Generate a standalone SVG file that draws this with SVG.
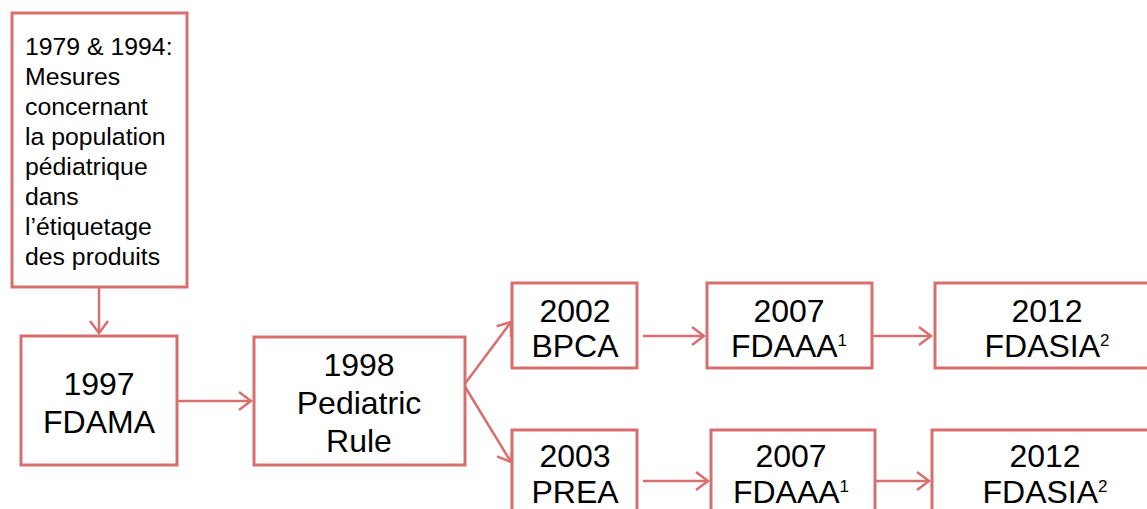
<svg xmlns="http://www.w3.org/2000/svg" width="1147" height="509" viewBox="0 0 1147 509">
<style>
.box{fill:#fff;stroke:#D86F6E;stroke-width:3}
.con{fill:none;stroke:#D86F6E;stroke-width:2.5}
.t{font-family:"Liberation Sans",Arial,sans-serif;fill:#000;text-anchor:middle;font-size:32px}
.s{font-family:"Liberation Sans",Arial,sans-serif;fill:#000;font-size:24.8px}
.sup{font-size:17px}
</style>
<defs>
<marker id="ah" markerUnits="userSpaceOnUse" markerWidth="16" markerHeight="20" refX="13" refY="10" orient="auto">
<path d="M1,1 L13,10 L1,19" fill="none" stroke="#D86F6E" stroke-width="2.5"/>
</marker>
</defs>
<g id="connectors">
<line class="con" x1="99" y1="288" x2="99" y2="333" marker-end="url(#ah)"/>
<line class="con" x1="172" y1="401" x2="251" y2="401" marker-end="url(#ah)"/>
<line class="con" x1="464" y1="385" x2="511" y2="322" marker-end="url(#ah)"/>
<line class="con" x1="464" y1="385" x2="511" y2="462" marker-end="url(#ah)"/>
<line class="con" x1="643" y1="336" x2="704" y2="336" marker-end="url(#ah)"/>
<line class="con" x1="868" y1="336" x2="931" y2="336" marker-end="url(#ah)"/>
<line class="con" x1="643" y1="481" x2="708" y2="481" marker-end="url(#ah)"/>
<line class="con" x1="872" y1="481" x2="929" y2="481" marker-end="url(#ah)"/>
</g>
<g id="n1979">
<rect class="box" x="12" y="13" width="175" height="274"/>
<text class="s" x="25"><tspan x="25" y="55">1979 &amp; 1994:</tspan><tspan x="25" y="85">Mesures</tspan><tspan x="25" y="115">concernant</tspan><tspan x="25" y="145">la population</tspan><tspan x="25" y="175">pédiatrique</tspan><tspan x="25" y="205">dans</tspan><tspan x="25" y="235">l’étiquetage</tspan><tspan x="25" y="265">des produits</tspan></text>
</g>
<g id="n1997">
<rect class="box" x="21" y="336" width="156" height="129"/>
<text class="t" x="99" y="395">1997</text>
<text class="t" x="99" y="433">FDAMA</text>
</g>
<g id="n1998">
<rect class="box" x="254" y="337" width="211" height="128"/>
<text class="t" x="359" y="376">1998</text>
<text class="t" x="359" y="414">Pediatric</text>
<text class="t" x="359" y="452">Rule</text>
</g>
<g id="n2002">
<rect class="box" x="512" y="283" width="125" height="85"/>
<text class="t" x="575" y="322">2002</text>
<text class="t" x="575" y="357">BPCA</text>
</g>
<g id="n2007a">
<rect class="box" x="707" y="283" width="165" height="85"/>
<text class="t" x="789" y="322">2007</text>
<text class="t" x="789" y="357">FDAAA<tspan class="sup" dy="-11">1</tspan></text>
</g>
<g id="n2012a">
<rect class="box" x="935" y="283" width="224" height="85"/>
<text class="t" x="1047" y="322">2012</text>
<text class="t" x="1047" y="357">FDASIA<tspan class="sup" dy="-11">2</tspan></text>
</g>
<g id="n2003">
<rect class="box" x="512" y="430" width="125" height="110"/>
<text class="t" x="575" y="467">2003</text>
<text class="t" x="575" y="503">PREA</text>
</g>
<g id="n2007b">
<rect class="box" x="711" y="430" width="164" height="110"/>
<text class="t" x="791" y="467">2007</text>
<text class="t" x="791" y="503">FDAAA<tspan class="sup" dy="-11">1</tspan></text>
</g>
<g id="n2012b">
<rect class="box" x="932" y="430" width="226" height="110"/>
<text class="t" x="1045" y="467">2012</text>
<text class="t" x="1045" y="503">FDASIA<tspan class="sup" dy="-11">2</tspan></text>
</g>
</svg>
